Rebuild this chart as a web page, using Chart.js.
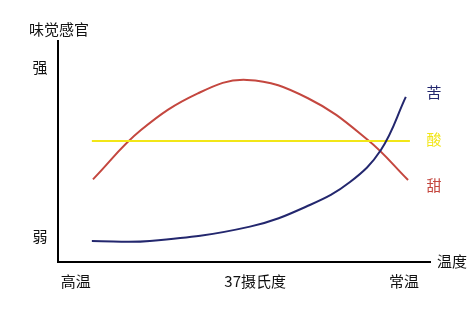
<!DOCTYPE html>
<html>
<head>
<meta charset="utf-8">
<script src="https://cdn.jsdelivr.net/npm/chart.js@4"></script>
<style>
  html, body { margin: 0; padding: 0; background: #fff; }
  #wrap { width: 476px; height: 313px; }
</style>
</head>
<body>
<div id="wrap"><canvas id="myChart" width="476" height="313"></canvas></div>
<script>
const ctx = document.getElementById('myChart').getContext('2d');

// Sample data (x: 0 = left end of axis, 100 = right end; y: 0 = 弱 side, 100 = top)
const bitterX = [9.1, 24.7, 51.6, 67.7, 78.5, 86.8, 93.5];
const bitterY = [9.5, 9.5, 16.0, 25.8, 36.2, 50.7, 74.7];
const sweetX = [9.4, 22.3, 37.6, 50.8, 67.2, 83.3, 94.1];
const sweetY = [37.4, 59.7, 76.3, 82.4, 74.1, 55.2, 37.1];
const sourX = [9.1, 94.6];
const sourY = [54.8, 54.8];

const seriesNames = ['苦', '酸', '甜'];
const xTickLabels = ['高温', '37摄氏度', '常温'];
const xTickValues = [4.8, 53, 93];
const yTickLabels = ['强', '弱'];
const yTickValues = [88, 11.5];

const toPoints = (xs, ys) => xs.map((x, i) => ({ x: x, y: ys[i] }));

const colors = ['#23276e', '#f2e618', '#c4473f'];

const data = {
    datasets: [
        { label: seriesNames[0], data: toPoints(bitterX, bitterY), borderColor: colors[0] },
        { label: seriesNames[1], data: toPoints(sourX, sourY), borderColor: colors[1] },
        { label: seriesNames[2], data: toPoints(sweetX, sweetY), borderColor: colors[2] }
    ]
};

// text labels drawn next to the axes / lines
const textPlugin = {
    id: 'texts',
    afterDraw(chart) {
        const c = chart.ctx;
        const xs = chart.scales.x;
        const ys = chart.scales.y;
        const area = chart.chartArea;
        c.save();
        c.font = '15px "Noto Sans CJK SC", sans-serif';
        c.textAlign = 'center';
        c.textBaseline = 'middle';
        c.fillStyle = '#111';
        // axis titles
        c.fillText('味觉感官', area.left + 1, area.top - 12);
        c.fillText('温度', area.right + 22, area.bottom - 1);
        // y labels
        yTickLabels.forEach((t, i) => c.fillText(t, area.left - 18, ys.getPixelForValue(yTickValues[i])));
        // x labels
        xTickLabels.forEach((t, i) => c.fillText(t, xs.getPixelForValue(xTickValues[i]), area.bottom + 19));
        // series labels
        const labelY = [77, 55.3, 34.5];
        seriesNames.forEach((t, i) => {
            c.fillStyle = colors[i];
            c.fillText(t, area.right + 4, ys.getPixelForValue(labelY[i]));
        });
        c.restore();
    }
};

const config = {
    type: 'scatter',
    data: data,
    options: {
        responsive: false,
        animation: false,
        showLine: true,
        layout: { padding: { left: 58, right: 46, top: 41, bottom: 51 } },
        elements: {
            point: { radius: 0 },
            line: { borderWidth: 2, tension: 0.4 }
        },
        plugins: { legend: { display: false }, tooltip: { enabled: false } },
        scales: {
            x: {
                type: 'linear', min: 0, max: 100,
                ticks: { display: false },
                grid: { display: false, drawTicks: false },
                border: { display: true, color: '#000', width: 2 }
            },
            y: {
                type: 'linear', min: 0, max: 100,
                ticks: { display: false },
                grid: { display: false, drawTicks: false },
                border: { display: true, color: '#000', width: 2 }
            }
        }
    },
    plugins: [textPlugin]
};

const myChart = new Chart(ctx, config);
</script>
</body>
</html>
